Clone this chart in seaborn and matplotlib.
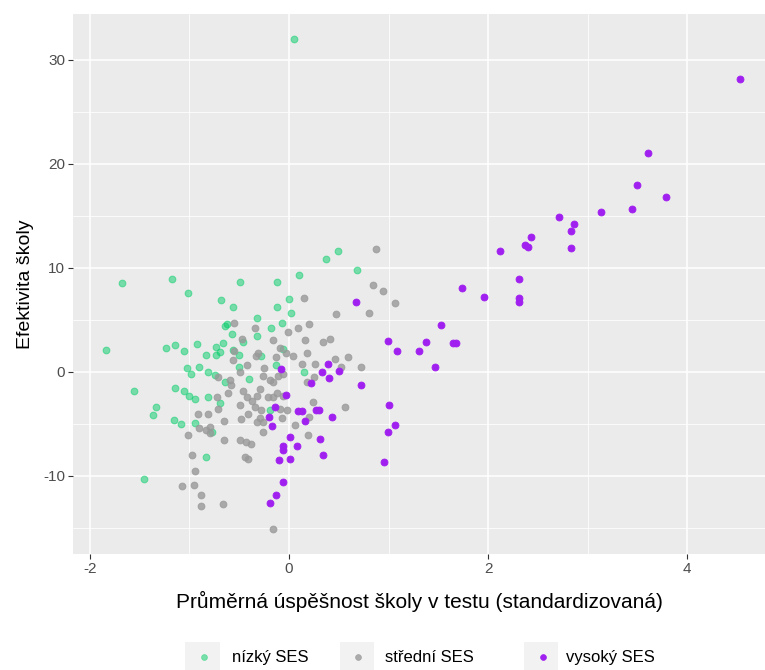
import matplotlib
matplotlib.use("Agg")
import matplotlib.pyplot as plt
from matplotlib.lines import Line2D
from matplotlib.patches import Rectangle
import seaborn as sns
import pandas as pd

# Schools with low socio-economic status
nizky_x = [0.05, -1.68, -1.18, -1.02, -0.68, -1.84, -1.24, -1.15, -1.06, -0.92,
           -0.83, -0.73, -0.66, -0.73, -0.69, -0.64, -0.62, -1.03, -0.90, -0.98,
           -0.81, -0.74, -0.64, -1.56, -1.15, -1.06, -1.00, -0.94, -0.81, -0.69,
           -1.34, -1.37, -1.16, -1.09, -0.94, -0.77, -0.83, -1.46, 0.49, 0.37,
           0.68, 0.10, -0.49, -0.12, -0.56, -0.12, 0.00, 0.02, -0.32, -0.07,
           -0.18, -0.57, -0.32, -0.46, -0.56, -0.50, -0.28, -0.06, -0.50, -0.13,
           0.15, -0.40, -0.19]
nizky_y = [32.0, 8.5, 8.9, 7.6, 6.9, 2.1, 2.3, 2.6, 2.0, 2.7,
           1.6, 2.4, 2.8, 1.6, 1.9, 4.4, 4.6, 0.4, 0.5, -0.2,
           0.0, -0.3, -1.0, -1.8, -1.5, -1.8, -2.3, -2.6, -2.4, -3.0,
           -3.4, -4.1, -4.6, -5.0, -4.9, -5.8, -8.2, -10.3, 11.6, 10.9,
           9.8, 9.3, 8.6, 8.6, 6.2, 6.2, 7.0, 5.7, 5.2, 4.7,
           4.2, 3.6, 3.5, 2.9, 2.1, 1.6, 1.5, 2.2, 0.5, 0.7,
           0.0, -0.7, -3.7]

# Schools with medium socio-economic status
stredni_x = [-0.72, -0.61, -0.91, -0.81, -0.71, -0.65, -0.90, -0.83, -0.79, -0.79,
             -1.01, -0.65, -0.97, -0.94, -1.08, -0.95, -0.88, -0.88, -0.66,
             0.15, 0.47, -0.55, -0.34, -0.01, 0.09, 0.20, -0.47, -0.16, 0.16,
             0.34, 0.41, -0.09, -0.03, 0.04, 0.18, -0.31, -0.33, -0.55, 0.46,
             0.59, 0.72, 0.52, 0.26, 0.13, -0.13, -0.25, -0.42,
             -0.56, -0.49, -0.26, -0.19, -0.11, -0.71, -0.59, -0.58, -0.46, -0.29,
             -0.42, -0.37, -0.32, -0.21, -0.12, -0.06, -0.49, -0.34, -0.28, -0.41,
             -0.48, -0.29, -0.26,
             0.56, 0.24, 0.20, 0.06, -0.07, 0.19, -0.02, -0.49, -0.43, -0.38,
             -0.44, -0.41, -0.16, -0.26, -0.32,
             0.87, 0.84, 0.94, 1.06, 0.80,
             0.18, 0.25, -0.06, -0.16, -0.16, -0.09]
stredni_y = [-2.4, -2.0, -4.0, -4.0, -3.6, -4.7, -5.4, -5.6, -5.3, -5.9,
             -6.1, -6.5, -8.0, -9.5, -11.0, -10.9, -11.8, -12.9, -12.7,
             7.1, 5.6, 4.7, 4.2, 3.8, 4.2, 4.6, 3.2, 3.1, 3.1,
             2.9, 3.2, 2.3, 1.8, 1.5, 1.8, 1.8, 1.5, 2.0, 1.2,
             1.4, 0.5, 0.5, 0.8, 0.8, 1.4, 0.4, 0.7,
             1.1, 0.0, -0.4, -0.8, -0.4, -0.5, -0.8, -1.3, -1.8, -1.6,
             -2.4, -2.8, -2.3, -2.4, -2.0, -2.3, -3.2, -3.4, -3.7, -4.0,
             -4.5, -4.4, -4.8,
             -3.4, -2.9, -4.3, -5.1, -4.4, -6.1, -3.7, -6.5, -6.7, -6.9,
             -8.2, -8.4, -15.1, -5.8, -4.8,
             11.8, 8.4, 7.8, 6.6, 5.7,
             -1.0, -0.5, -0.2, -1.0, -2.4, -3.6]

# Schools with high socio-economic status
vysoky_x = [0.67, 0.39, 0.33, 0.50, 0.40, -0.08, 0.22, 0.72, -0.03, 0.09,
            0.13, 0.27, 0.30, 0.43, 0.16, -0.20, -0.14, -0.17, 0.01, 0.31,
            -0.06, -0.06, 0.08, 0.34, -0.10, 0.01, -0.06, -0.13, -0.19,
            1.74, 1.53, 0.99, 1.08, 1.38, 1.31, 1.65, 1.68, 1.47, 1.00,
            1.06, 0.99, 0.95,
            4.53, 3.60, 3.49, 3.79, 3.44, 3.13, 2.71, 2.86, 2.83, 2.83,
            2.43, 2.37, 2.40, 2.12, 2.31, 2.31, 2.31, 1.96]
vysoky_y = [6.7, 0.8, 0.0, 0.1, -0.6, 0.3, -1.1, -1.3, -2.2, -3.8,
            -3.8, -3.7, -3.7, -4.3, -4.7, -4.3, -3.4, -5.2, -6.3, -6.4,
            -7.1, -7.5, -7.1, -8.0, -8.5, -8.4, -10.6, -11.8, -12.6,
            8.1, 4.5, 3.0, 2.0, 2.9, 2.0, 2.8, 2.8, 0.5, -3.2,
            -5.1, -5.8, -8.7,
            28.2, 21.0, 18.0, 16.8, 15.7, 15.4, 14.9, 14.2, 13.5, 11.9,
            13.0, 12.2, 12.0, 11.6, 8.9, 7.1, 6.7, 7.2]

skupiny = ["nízký SES", "střední SES", "vysoký SES"]
barvy = {"nízký SES": (0.0, 0.804, 0.4, 0.5),
         "střední SES": (0.60, 0.60, 0.60, 0.80),
         "vysoký SES": (0.627, 0.125, 0.941, 1.0)}

df = pd.concat([
    pd.DataFrame({"x": nizky_x, "y": nizky_y, "SES": skupiny[0]}),
    pd.DataFrame({"x": stredni_x, "y": stredni_y, "SES": skupiny[1]}),
    pd.DataFrame({"x": vysoky_x, "y": vysoky_y, "SES": skupiny[2]}),
], ignore_index=True)

sns.set_theme(style="darkgrid", rc={
    "axes.facecolor": "#EBEBEB",
    "grid.color": "white",
    "axes.edgecolor": "#EBEBEB",
})
plt.rcParams["font.family"] = ["Liberation Sans", "DejaVu Sans"]
plt.rcParams["axes.unicode_minus"] = False

W, H = 765, 670
fig = plt.figure(figsize=(W / 100, H / 100), dpi=100)
ax = fig.add_axes([73 / W, 1 - 554 / H, (W - 73) / W, (554 - 14) / H])

for skupina in skupiny:
    d = df[df["SES"] == skupina]
    c = barvy[skupina]
    sns.scatterplot(data=d, x="x", y="y", ax=ax, s=24, color=c[:3], alpha=c[3],
                    edgecolor=c[:3], linewidth=0.7, legend=False, zorder=3)

ax.set_xlim(-2.17, 4.78)
ax.set_ylim(-17.5, 34.4)
ax.set_xticks([-2, 0, 2, 4])
ax.set_yticks([-10, 0, 10, 20, 30])
ax.set_xticks([-1, 1, 3], minor=True)
ax.set_yticks([-15, -5, 5, 15, 25], minor=True)
ax.grid(which="major", color="white", linewidth=1.1)
ax.grid(which="minor", color="white", linewidth=0.55)
for sp in ax.spines.values():
    sp.set_visible(False)
ax.tick_params(which="major", length=3.5, width=0.8, color="#333333",
               labelsize=11, labelcolor="#4D4D4D", pad=2, bottom=True, left=True)
ax.tick_params(which="minor", length=0)

ax.set_xlabel("Průměrná úspěšnost školy v testu (standardizovaná)",
              fontsize=15, color="black", labelpad=11)
ax.set_ylabel("Efektivita školy", fontsize=14, color="black", labelpad=7)

# bottom legend: key box, dot and label for each group (pixel layout)
klice_px = [(185, 220, 204, 232), (340, 374, 358, 385), (524, 558, 543, 566)]
for skupina, (x0, x1, xd, xt) in zip(skupiny, klice_px):
    c = barvy[skupina]
    fig.add_artist(Rectangle((x0 / W, 1 - 672 / H), (x1 - x0) / W, 30 / H,
                             transform=fig.transFigure, facecolor="#F2F2F2",
                             edgecolor="none"))
    fig.add_artist(Line2D([xd / W], [1 - 657 / H], transform=fig.transFigure,
                          marker="o", markersize=4.2, linestyle="none",
                          markerfacecolor=c, markeredgecolor=c,
                          markeredgewidth=0.5))
    fig.text(xt / W, 1 - 662 / H, skupina, fontsize=12, color="black",
             ha="left", va="baseline")

fig.savefig("out.png", dpi=100)
